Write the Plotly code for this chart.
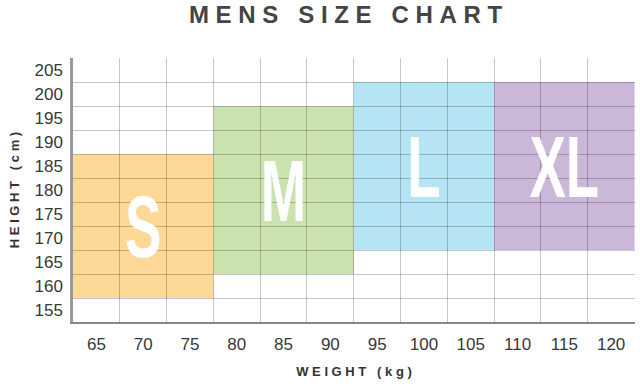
import plotly.graph_objects as go

# Data
sizes = ["S", "M", "L", "XL"]
weight_min = [62.5, 77.5, 92.5, 107.5]
weight_max = [77.5, 92.5, 107.5, 122.5]
height_min = [157.5, 162.5, 167.5, 167.5]
height_max = [187.5, 197.5, 202.5, 202.5]
colors = ["#FDD896", "#C9E2AE", "#B5E5F4", "#CBB7D8"]
weight_ticks = [65, 70, 75, 80, 85, 90, 95, 100, 105, 110, 115, 120]
height_ticks = [155, 160, 165, 170, 175, 180, 185, 190, 195, 200, 205]

NB = "\u00a0"

def spaced(s, word_gap=3):
    out = []
    for ch in s:
        if ch == " ":
            out.append(NB * word_gap)
        else:
            out.append(ch + NB)
    return "".join(out).rstrip(NB)

fig = go.Figure()

shapes = []
for i in range(len(sizes)):
    shapes.append(dict(type="rect", xref="x", yref="y",
                       x0=weight_min[i], x1=weight_max[i],
                       y0=height_min[i], y1=height_max[i],
                       fillcolor=colors[i], line=dict(width=0), layer="below"))

fig.add_trace(go.Scatter(
    x=[(a + b) / 2 for a, b in zip(weight_min, weight_max)],
    y=[(a + b) / 2 for a, b in zip(height_min, height_max)],
    text=sizes, mode="text",
    textfont=dict(family="Liberation Sans, Arial, sans-serif",
                  size=88, color="white", weight="bold"),
    textposition="middle center", hoverinfo="skip", showlegend=False))

grid_col = "rgba(0,0,0,0.22)"
step_x = weight_ticks[1] - weight_ticks[0]
step_y = height_ticks[1] - height_ticks[0]
x_bounds = [t - step_x / 2 for t in weight_ticks] + [weight_ticks[-1] + step_x / 2]
y_bounds = [t + step_y / 2 for t in height_ticks[:-1]]

fig.update_layout(
    width=640, height=384,
    margin=dict(l=73, r=5, t=58, b=62),
    paper_bgcolor="white", plot_bgcolor="white",
    shapes=shapes,
    title=dict(text="<b>" + spaced("MENS SIZE CHART", 2) + "</b>",
               x=0.54, xanchor="center", y=0.963, yanchor="middle",
               font=dict(family="Liberation Sans, Arial, sans-serif", size=24, color="#444444")),
    font=dict(family="Liberation Sans, Arial, sans-serif", color="#3a3a3a"),
    xaxis=dict(range=[weight_ticks[0] - step_x / 2, weight_ticks[-1] + step_x / 2 + 0.05],
               tickvals=weight_ticks, ticktext=[str(v) for v in weight_ticks],
               showgrid=False, zeroline=False, automargin=False,
               minor=dict(tickvals=x_bounds, showgrid=True, gridcolor=grid_col, gridwidth=1, ticks=""),
               showline=True, linecolor="#888888", linewidth=1.5,
               ticks="", ticklabelstandoff=6,
               tickfont=dict(size=17, color="#383838"),
               title=dict(text="<b>" + spaced("WEIGHT (kg)", 2) + "</b>",
                          font=dict(size=13, color="#333333"), standoff=14)),
    yaxis=dict(range=[height_ticks[0] - step_y / 2, height_ticks[-1] + step_y / 2],
               tickvals=height_ticks, ticktext=[str(v) for v in height_ticks],
               showgrid=False, zeroline=False, automargin=False,
               minor=dict(tickvals=y_bounds, showgrid=True, gridcolor=grid_col, gridwidth=1, ticks=""),
               showline=True, linecolor="#999999", linewidth=2.5,
               ticks="", ticklabelstandoff=4,
               tickfont=dict(size=17, color="#383838"),
               title=dict(text="<b>" + spaced("HEIGHT (cm)", 2) + "</b>",
                          font=dict(size=13, color="#333333"), standoff=12)),
)

# condense the big size letters horizontally (the original uses a condensed display face)
post_js = """
document.body.style.margin='0';document.body.style.overflow='hidden';
document.querySelectorAll('.textpoint text').forEach(function(t){
  var b=t.getBBox(); var cx=b.x+b.width/2, cy=b.y+b.height/2;
  var old=t.getAttribute('transform')||'';
  t.setAttribute('transform', old+' translate(0,9) translate('+cx+','+cy+') scale(0.62,1) translate('+(-cx)+','+(-cy)+')');
});
"""

fig.write_html("out.html", config={"displayModeBar": False}, post_script=post_js)
